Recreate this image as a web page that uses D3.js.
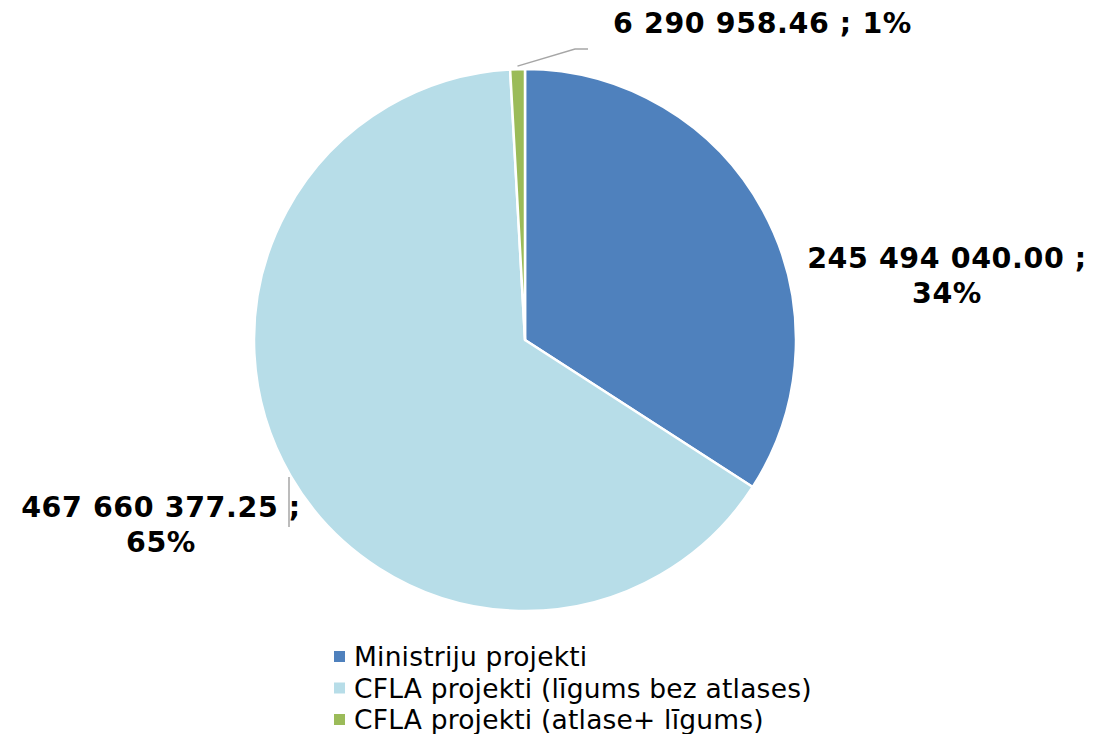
<!DOCTYPE html>
<html><head><meta charset="utf-8">
<script src="https://cdn.jsdelivr.net/npm/d3@7"></script>
<style>body{margin:0;background:#fff}svg{display:block}</style>
</head><body>
<svg id="c" width="1114" height="734"></svg>
<script>
const categories = ["Ministriju projekti", "CFLA projekti (līgums bez atlases)", "CFLA projekti (atlase+ līgums)"];
const values = [245494040.00, 467660377.25, 6290958.46];
const valueLabels = ["245 494 040.00", "467 660 377.25", "6 290 958.46"];
const percentLabels = ["34%", "65%", "1%"];
const colors = ["#4F81BD", "#B7DDE8", "#9BBB59"];

const svg = d3.select("#c");
const cx = 525, cy = 340, R = 271;
const font = "'DejaVu Sans', Verdana, sans-serif";

const pie = d3.pie().sort(null).value(d => d)(values);
const arc = d3.arc().innerRadius(0).outerRadius(R);
const g = svg.append("g").attr("transform", `translate(${cx},${cy})`);
g.selectAll("path").data(pie).join("path")
  .attr("d", arc).attr("fill", (d, i) => colors[i])
  .attr("stroke", "#fff").attr("stroke-width", 2.5).attr("stroke-linejoin", "round");

// leader lines
const lineStroke = "#A6A6A6";
{
  const d = pie[2];
  const a = (d.startAngle + d.endAngle) / 2;
  const p0 = [cx + Math.sin(a) * (R + 3), cy - Math.cos(a) * (R + 3)];
  svg.append("polyline").attr("points", `${p0[0]},${p0[1]} 575,49 588,49`)
    .attr("fill", "none").attr("stroke", lineStroke).attr("stroke-width", 1.5);
}
svg.append("line").attr("x1", 289).attr("x2", 289).attr("y1", 477).attr("y2", 527)
  .attr("stroke", lineStroke).attr("stroke-width", 1.5);

const lab = svg.append("g").attr("font-family", font).attr("font-weight", "bold")
  .attr("font-size", 28.5).attr("letter-spacing", 0.6).attr("fill", "#000");

lab.append("text").attr("x", 947).attr("y", 268).attr("text-anchor", "middle")
  .text(valueLabels[0] + " ;");
lab.append("text").attr("x", 947).attr("y", 303).attr("text-anchor", "middle")
  .text(percentLabels[0]);
lab.append("text").attr("x", 161).attr("y", 517).attr("text-anchor", "middle")
  .text(valueLabels[1] + " ;");
lab.append("text").attr("x", 161).attr("y", 552).attr("text-anchor", "middle")
  .text(percentLabels[1]);
lab.append("text").attr("x", 613).attr("y", 33).attr("text-anchor", "start")
  .text(valueLabels[2] + " ; " + percentLabels[2]);

// legend
const leg = svg.append("g").attr("font-family", font).attr("font-size", 26.5)
  .attr("letter-spacing", 0.2).attr("fill", "#000");
const ly = d3.scalePoint().domain(categories).range([656, 719]);
categories.forEach((c, i) => {
  const y = ly(c);
  leg.append("rect").attr("x", 334).attr("y", y - 5).attr("width", 11).attr("height", 11).attr("fill", colors[i]);
  leg.append("text").attr("x", 354).attr("y", y + 10).text(c);
});
</script>
</body></html>
